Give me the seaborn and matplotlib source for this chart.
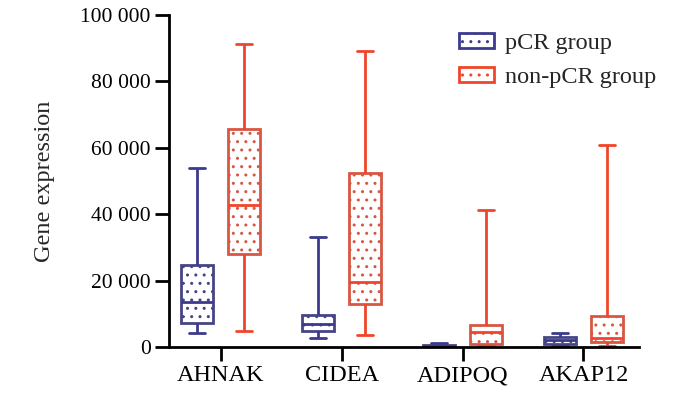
import numpy as np
import pandas as pd
import matplotlib
matplotlib.use("Agg")
import matplotlib.pyplot as plt
from matplotlib.patches import Patch
from matplotlib.ticker import FuncFormatter
import seaborn as sns

GENES  = ["AHNAK", "CIDEA", "ADIPOQ", "AKAP12"]
GROUPS = ["pCR group", "non-pCR group"]
COLORS = ["#3c3a8e", "#f0452a"]

# five-number summaries: min, q1, median, q3, max
PCR = {
    "AHNAK":  [4200, 7300, 13500, 24800, 53800],
    "CIDEA":  [2700, 4800, 6900, 9600, 33000],
    "ADIPOQ": [100, 200, 400, 700, 1200],
    "AKAP12": [300, 900, 2100, 3000, 4200],
}
NON_PCR = {
    "AHNAK":  [4800, 28000, 42800, 65800, 91300],
    "CIDEA":  [3600, 12900, 19700, 52500, 89300],
    "ADIPOQ": [200, 900, 4500, 6600, 41300],
    "AKAP12": [300, 1500, 2700, 9300, 61000],
}
Y_TICKS = [0, 20000, 40000, 60000, 80000, 100000]

rows = []
for grp, table in zip(GROUPS, [PCR, NON_PCR]):
    for gene in GENES:
        for v in table[gene]:
            rows.append({"gene": gene, "group": grp, "value": v})
df = pd.DataFrame(rows)

sns.set_style("ticks")
plt.rcParams["font.family"] = ["Liberation Serif", "DejaVu Serif"]
plt.rcParams["hatch.linewidth"] = 1.0

fig = plt.figure(figsize=(7, 3.97), dpi=100)
ax = fig.add_axes([0.241, 0.126, 0.672, 0.836])

sns.boxplot(data=df, x="gene", y="value", hue="group", order=GENES,
            hue_order=GROUPS, palette=COLORS, fill=True, whis=(0, 100),
            width=0.78, gap=0.33, linewidth=2, legend=False, ax=ax)

# white boxes with coloured, dotted outline like the original
for p in ax.patches:
    c = p.get_facecolor()
    p.set_edgecolor(c)
    p.set_facecolor("white")
    p.set_hatch("..")
for ln in ax.lines:
    xs = np.asarray(ln.get_xdata(), dtype=float)
    if xs.size == 0:
        continue
    xm = xs.mean()
    ln.set_color(COLORS[0] if xm < round(xm) else COLORS[1])

ax.set_xlim(-0.43, 3.46)
ax.set_ylim(0, 100000)
ax.set_yticks(Y_TICKS)
ax.yaxis.set_major_formatter(FuncFormatter(lambda v, _: f"{v:,.0f}".replace(",", " ")))
ax.set_xlabel("")
ax.set_ylabel("Gene expression", fontsize=17.5, labelpad=18)
ax.tick_params(axis="both", length=10, width=2, color="black",
               labelcolor="black", pad=3)
ax.tick_params(axis="y", labelsize=15.5)
ax.tick_params(axis="x", labelsize=17.5)
sns.despine(ax=ax)
for s in ["left", "bottom"]:
    ax.spines[s].set_linewidth(2)
    ax.spines[s].set_color("black")

handles = [Patch(facecolor="white", edgecolor=c, hatch="..", linewidth=2, label=g)
           for c, g in zip(COLORS, GROUPS)]
ax.legend(handles=handles, loc="upper left", bbox_to_anchor=(459 / 700, 1 - 33 / 397),
          bbox_transform=fig.transFigure, frameon=False, fontsize=17.5,
          handlelength=1.45, handleheight=0.55, handletextpad=0.45,
          labelspacing=0.55, borderpad=0, borderaxespad=0)

fig.savefig("out.png", dpi=100)
plt.close(fig)
